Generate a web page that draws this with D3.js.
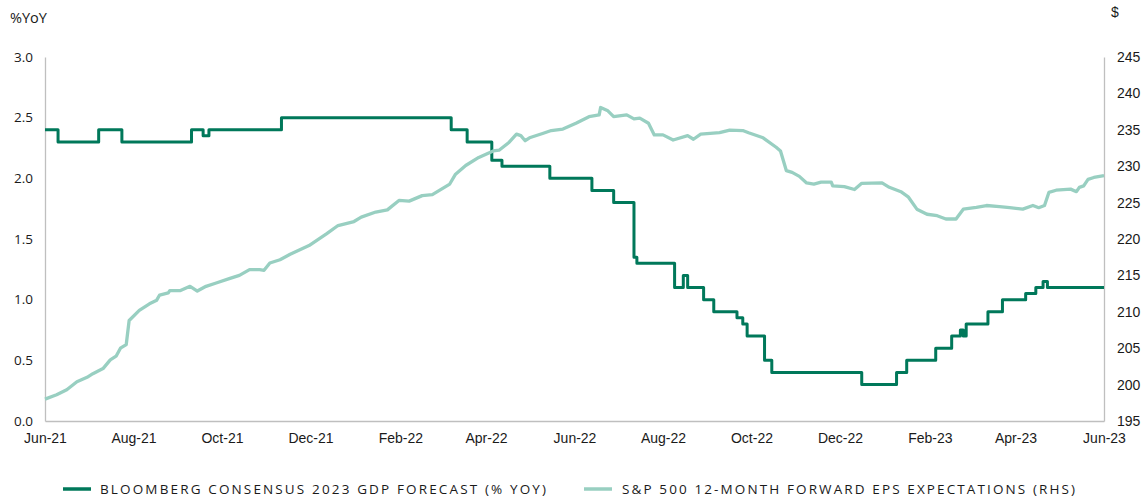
<!DOCTYPE html>
<html>
<head>
<meta charset="utf-8">
<script src="https://cdn.jsdelivr.net/npm/d3@7"></script>
<style>
  body { margin: 0; background: #fff; }
  .axis text { fill: #1a1a1a; }
</style>
</head>
<body>
<svg id="chart" width="1146" height="500"></svg>
<script>

// Bloomberg consensus 2023 GDP forecast (% yoy), value from each date on
var gdpSteps = [
  ["2021-06-01", 2.4], ["2021-06-10", 2.3], ["2021-07-08", 2.4], ["2021-07-24", 2.3],
  ["2021-09-10", 2.4], ["2021-09-18", 2.35], ["2021-09-22", 2.4], ["2021-11-11", 2.5],
  ["2022-03-08", 2.4], ["2022-03-19", 2.3], ["2022-04-05", 2.15], ["2022-04-12", 2.1],
  ["2022-05-15", 2.0], ["2022-06-13", 1.9], ["2022-06-28", 1.8], ["2022-07-12", 1.35],
  ["2022-07-14", 1.3], ["2022-08-09", 1.1], ["2022-08-15", 1.2], ["2022-08-18", 1.1],
  ["2022-08-29", 1.0], ["2022-09-05", 0.9], ["2022-09-21", 0.85], ["2022-09-25", 0.8],
  ["2022-09-28", 0.7], ["2022-10-10", 0.5], ["2022-10-15", 0.4], ["2022-12-16", 0.3],
  ["2023-01-09", 0.4], ["2023-01-16", 0.5], ["2023-02-05", 0.6], ["2023-02-16", 0.7],
  ["2023-02-22", 0.75], ["2023-02-24", 0.7], ["2023-02-26", 0.8], ["2023-03-13", 0.9],
  ["2023-03-23", 1.0], ["2023-04-08", 1.05], ["2023-04-15", 1.1], ["2023-04-20", 1.15],
  ["2023-04-23", 1.1], ["2023-06-01", 1.1]
];

// S&P 500 12-month forward EPS expectations ($, rhs)
var epsPoints = [
  ["2021-06-01", 198.0], ["2021-06-09", 198.6], ["2021-06-16", 199.3], ["2021-06-23", 200.4],
  ["2021-06-30", 201.0], ["2021-07-04", 201.5], ["2021-07-11", 202.2], ["2021-07-16", 203.4],
  ["2021-07-20", 203.9], ["2021-07-23", 205.0], ["2021-07-27", 205.5], ["2021-07-29", 208.8],
  ["2021-08-05", 210.2], ["2021-08-12", 211.1], ["2021-08-17", 211.6], ["2021-08-19", 212.3],
  ["2021-08-25", 212.6], ["2021-08-26", 212.9], ["2021-09-02", 212.9], ["2021-09-09", 213.5],
  ["2021-09-14", 212.85], ["2021-09-20", 213.5], ["2021-09-27", 213.95], ["2021-10-06", 214.55],
  ["2021-10-13", 215.0], ["2021-10-20", 215.8], ["2021-10-27", 215.8], ["2021-10-30", 215.7],
  ["2021-11-03", 216.7], ["2021-11-10", 217.15], ["2021-11-17", 217.9], ["2021-11-30", 219.1],
  ["2021-12-12", 220.7], ["2021-12-20", 221.85], ["2021-12-31", 222.4], ["2022-01-05", 223.0],
  ["2022-01-15", 223.7], ["2022-01-23", 224.0], ["2022-01-31", 225.3], ["2022-02-07", 225.2],
  ["2022-02-16", 225.96], ["2022-02-23", 226.1], ["2022-03-07", 227.55], ["2022-03-11", 228.9],
  ["2022-03-18", 230.1], ["2022-03-27", 231.2], ["2022-04-06", 232.1], ["2022-04-10", 232.2],
  ["2022-04-17", 233.3], ["2022-04-22", 234.4], ["2022-04-25", 234.2], ["2022-04-28", 233.5],
  ["2022-05-01", 233.9], ["2022-05-10", 234.5], ["2022-05-16", 234.9], ["2022-05-24", 235.1],
  ["2022-06-02", 235.9], ["2022-06-11", 236.8], ["2022-06-18", 237.05], ["2022-06-19", 238.06],
  ["2022-06-24", 237.6], ["2022-06-28", 236.8], ["2022-07-07", 237.05], ["2022-07-12", 236.5],
  ["2022-07-16", 236.6], ["2022-07-22", 235.9], ["2022-07-26", 234.3], ["2022-08-01", 234.3],
  ["2022-08-08", 233.6], ["2022-08-18", 234.2], ["2022-08-22", 233.7], ["2022-08-27", 234.4],
  ["2022-09-09", 234.6], ["2022-09-16", 234.95], ["2022-09-25", 234.9], ["2022-09-29", 234.6],
  ["2022-10-09", 233.9], ["2022-10-18", 232.6], ["2022-10-21", 232.1], ["2022-10-25", 229.4],
  ["2022-10-29", 229.15], ["2022-11-03", 228.6], ["2022-11-08", 227.7], ["2022-11-13", 227.55],
  ["2022-11-18", 227.8], ["2022-11-25", 227.8], ["2022-11-26", 227.3], ["2022-12-04", 227.2],
  ["2022-12-11", 226.8], ["2022-12-16", 227.65], ["2022-12-30", 227.7], ["2023-01-04", 227.1],
  ["2023-01-12", 226.5], ["2023-01-17", 225.8], ["2023-01-23", 224.1], ["2023-01-30", 223.4],
  ["2023-02-06", 223.2], ["2023-02-12", 222.75], ["2023-02-19", 222.75], ["2023-02-24", 224.1],
  ["2023-03-05", 224.35], ["2023-03-12", 224.6], ["2023-03-21", 224.45], ["2023-03-28", 224.3],
  ["2023-04-06", 224.1], ["2023-04-13", 224.6], ["2023-04-17", 224.3], ["2023-04-21", 224.6],
  ["2023-04-24", 226.4], ["2023-04-29", 226.7], ["2023-05-09", 226.85], ["2023-05-13", 226.5],
  ["2023-05-15", 227.1], ["2023-05-18", 227.3], ["2023-05-21", 228.2], ["2023-05-25", 228.45],
  ["2023-06-01", 228.7]
];

var leftTicks = [0, 0.5, 1.0, 1.5, 2.0, 2.5, 3.0];
var rightTicks = [195, 200, 205, 210, 215, 220, 225, 230, 235, 240, 245];
var dateRange = ["2021-06-01", "2023-06-01"];
var legendLabels = ["BLOOMBERG CONSENSUS 2023 GDP FORECAST (% YOY)",
                    "S&P 500 12-MONTH FORWARD EPS EXPECTATIONS (RHS)"];

var darkGreen = "#00785a",
    lightGreen = "#98cfc1",
    axisGrey = "#bfbfbf";

var parse = d3.timeParse("%Y-%m-%d");
var svg = d3.select("#chart");

// plot box (note: "top" is taken by window.top)
var plotL = 45, plotR = 1104, plotT = 57, plotB = 421;

var x = d3.scaleTime()
    .domain(dateRange.map(parse))
    .range([plotL, plotR]);
var yL = d3.scaleLinear().domain([0, 3]).range([plotB, plotT]);
var yR = d3.scaleLinear().domain([195, 245]).range([plotB, plotT]);

var xTickDates = d3.timeMonth.range(x.domain()[0], d3.timeDay.offset(x.domain()[1], 1), 2);

// axes
var gx = svg.append("g").attr("class", "axis")
    .attr("transform", "translate(0," + plotB + ")")
    .call(d3.axisBottom(x).tickValues(xTickDates).tickFormat(d3.timeFormat("%b-%y"))
        .tickSizeInner(0).tickSizeOuter(0).tickPadding(12));
gx.selectAll("text").style("font-family", "Liberation Sans, Arial, sans-serif").style("font-size", "14px");

var gl = svg.append("g").attr("class", "axis")
    .attr("transform", "translate(" + plotL + ",0)")
    .call(d3.axisLeft(yL).tickValues(leftTicks).tickFormat(d3.format(".1f"))
        .tickSizeInner(0).tickSizeOuter(0).tickPadding(12));
gl.selectAll("text").style("font-family", "Open Sans, Noto Sans, sans-serif").style("font-size", "13.5px");

var gr = svg.append("g").attr("class", "axis")
    .attr("transform", "translate(" + plotR + ",0)")
    .call(d3.axisRight(yR).tickValues(rightTicks)
        .tickSizeInner(0).tickSizeOuter(0).tickPadding(13));
gr.selectAll("text").style("font-family", "Liberation Sans, Arial, sans-serif").style("font-size", "14px");

svg.selectAll(".axis .domain").attr("stroke", axisGrey).attr("stroke-width", 1.3);
svg.selectAll(".axis .tick line").remove();

// unit labels
svg.append("text").attr("x", 10).attr("y", 23)
    .style("font-family", "Open Sans, Noto Sans, sans-serif").style("font-size", "14.5px")
    .attr("fill", "#1a1a1a").text("%YoY");
svg.append("text").attr("x", 1111).attr("y", 17)
    .style("font-family", "Liberation Sans, Arial, sans-serif").style("font-size", "14px")
    .attr("fill", "#1a1a1a").text("$");

// lines
var gdpLine = d3.line()
    .curve(d3.curveStepAfter)
    .x(function (d) { return x(parse(d[0])); })
    .y(function (d) { return yL(d[1]); });

var epsLine = d3.line()
    .x(function (d) { return x(parse(d[0])); })
    .y(function (d) { return yR(d[1]); });

svg.append("path").datum(gdpSteps)
    .attr("d", gdpLine)
    .attr("fill", "none")
    .attr("stroke", darkGreen)
    .attr("stroke-width", 3)
    .attr("stroke-linejoin", "round");

svg.append("path").datum(epsPoints)
    .attr("d", epsLine)
    .attr("fill", "none")
    .attr("stroke", lightGreen)
    .attr("stroke-width", 3.3)
    .attr("stroke-linejoin", "round");

// legend
var legend = [
  { label: legendLabels[0], color: darkGreen, x0: 63, tx: 100, w: 446 },
  { label: legendLabels[1], color: lightGreen, x0: 584, tx: 622, w: 453 }
];
var lg = svg.selectAll(".legend").data(legend).enter().append("g").attr("class", "legend");
lg.append("line")
    .attr("x1", function (d) { return d.x0; })
    .attr("x2", function (d) { return d.x0 + 28; })
    .attr("y1", 489).attr("y2", 489)
    .attr("stroke", function (d) { return d.color; })
    .attr("stroke-width", 3.5);
lg.append("text")
    .attr("x", function (d) { return d.tx; })
    .attr("y", 494)
    .attr("textLength", function (d) { return d.w; })
    .attr("lengthAdjust", "spacing")
    .style("font-family", "Open Sans, Noto Sans, sans-serif")
    .style("font-size", "13.5px")
    .attr("fill", "#1a1a1a")
    .text(function (d) { return d.label; });

</script>
</body>
</html>
